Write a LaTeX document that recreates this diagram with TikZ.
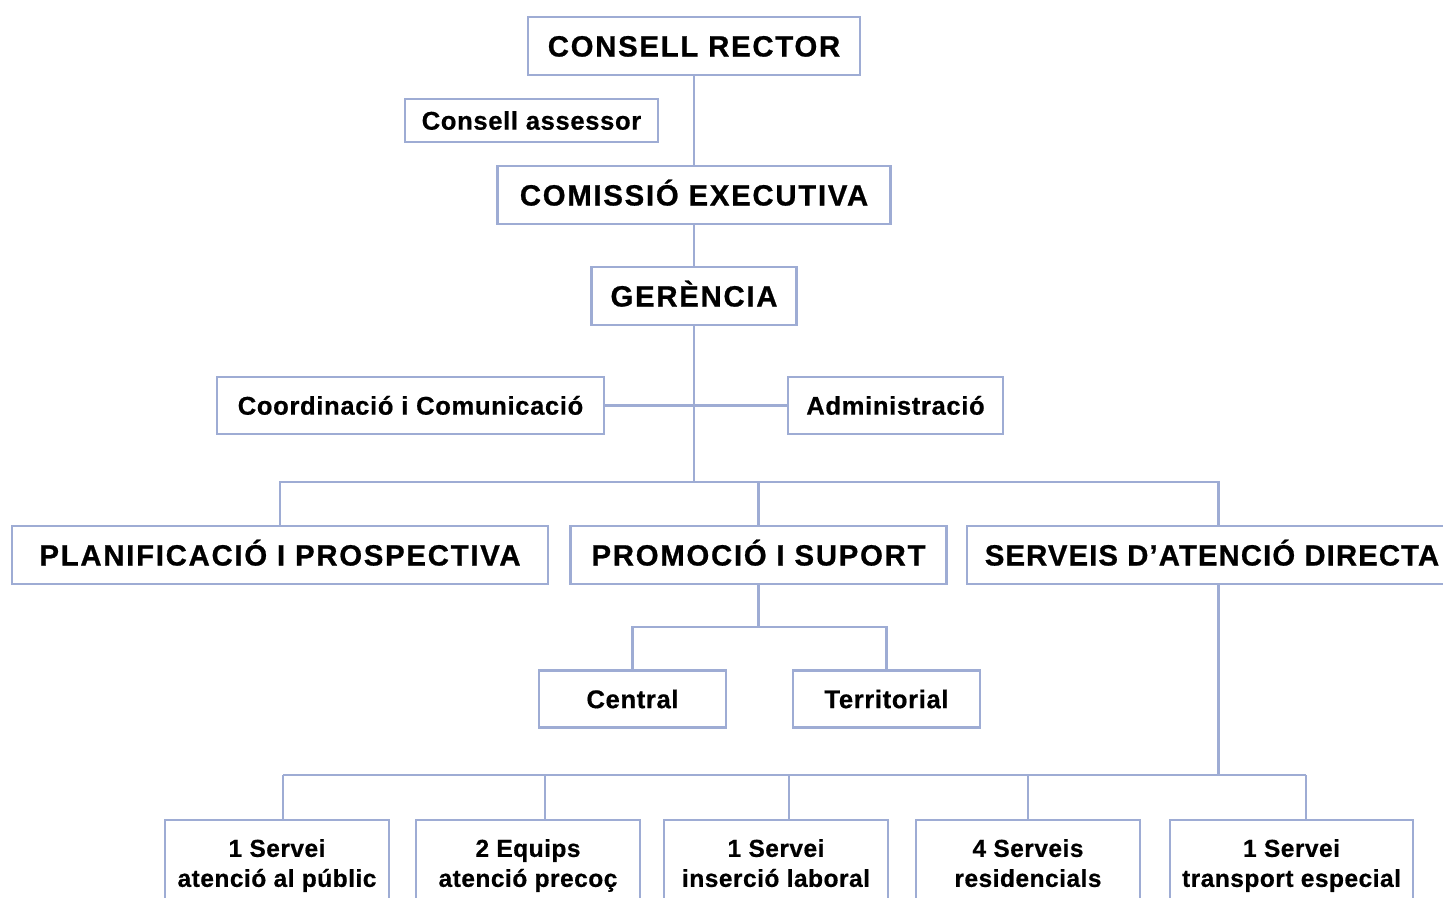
\documentclass[tikz,border=0pt]{standalone}
\usepackage{fontspec}
\setmainfont{Liberation Sans}
\definecolor{lineblue}{RGB}{158,172,212}
\begin{document}
\begin{tikzpicture}[x=1pt,y=-1pt,
  box/.style={draw=lineblue,line width=2.6pt,inner sep=0pt,fill=white},
  bigbox/.style={box,minimum height=58pt,text height=21pt,text depth=0pt,
    font=\fontsize{29.3}{32}\selectfont\bfseries\addfontfeatures{LetterSpace=6,FakeBold=0.8}},
  smallbox/.style={box,minimum height=57pt,text height=18.3pt,text depth=0pt,
    font=\fontsize{25.6}{28}\selectfont\bfseries\addfontfeatures{LetterSpace=2.5,FakeBold=0.6}},
  botbox/.style={box,minimum width=224pt,minimum height=91pt,align=center,
    font=\fontsize{24.5}{30}\selectfont\bfseries\addfontfeatures{LetterSpace=2,FakeBold=0.6}},
  conn/.style={draw=lineblue,line width=2.6pt}]
\useasboundingbox (0,0) rectangle (1443,897);
\clip (0,0) rectangle (1443,897);
\fill[white] (0,0) rectangle (1443,897);
% nodes
\node[bigbox,minimum width=332pt] (cr) at (694,46) {CONSELL RECTOR};
\node[smallbox,minimum width=253pt,minimum height=43pt] (ca) at (531.5,120.5) {Consell assessor};
\node[bigbox,minimum width=393pt] (ce) at (694,195) {COMISSIÓ EXECUTIVA};
\node[bigbox,minimum width=205pt] (ge) at (694,296) {GERÈNCIA};
\node[smallbox,minimum width=387pt] (cc) at (410.5,405.5) {Coordinació i Comunicació};
\node[smallbox,minimum width=215pt] (ad) at (895.5,405.5) {Administració};
\node[bigbox,minimum width=536pt] (pl) at (280,555) {PLANIFICACIÓ I PROSPECTIVA};
\node[bigbox,minimum width=376pt] (pr) at (758.5,555) {PROMOCIÓ I SUPORT};
\node[bigbox,minimum width=503pt,
  font=\fontsize{29.3}{32}\selectfont\bfseries\addfontfeatures{LetterSpace=3.8,FakeBold=0.8}]
  (sd) at (1218.5,555) {\hspace*{-13pt}SERVEIS D’ATENCIÓ DIRECTA};
\node[smallbox,minimum width=187pt] (c1) at (632.5,699) {Central};
\node[smallbox,minimum width=187pt] (c2) at (886.5,699) {Territorial};
\node[botbox] (b1) at (277,865.5) {1 Servei\\atenció al públic};
\node[botbox] (b2) at (528,865.5) {2 Equips\\atenció precoç};
\node[botbox] (b3) at (776,865.5) {1 Servei\\inserció laboral\vphantom{p}};
\node[botbox] (b4) at (1028,865.5) {4 Serveis\\residencials\vphantom{p}};
\node[botbox,minimum width=243pt] (b5) at (1291.5,865.5) {1 Servei\\transport especial};
% junction coordinates
\coordinate (j1) at (694,482);
\coordinate (j2) at (758.5,627);
\coordinate (j3) at (1218.5,775);
\coordinate (t1) at (283,775);
\coordinate (t2) at (545,775);
\coordinate (t3) at (789,775);
\coordinate (t4) at (1028,775);
\coordinate (t5) at (1306,775);
% connectors
\draw[conn] (cr.south) -- (ce.north);
\draw[conn] (ce.south) -- (ge.north);
\draw[conn] (ge.south) -- (j1);
\draw[conn] (cc.east) -- (ad.west);
\draw[conn] (pl.north) |- (j1) -| (sd.north);
\draw[conn] (pr.north) -- (pr.north |- j1);
\draw[conn] (pr.south) -- (j2);
\draw[conn] (c1.north) |- (j2) -| (c2.north);
\draw[conn] (sd.south) -- (j3);
\draw[conn] (t1) -- (t5);
\draw[conn] (t1) -- (t1 |- b1.north);
\draw[conn] (t2) -- (t2 |- b2.north);
\draw[conn] (t3) -- (t3 |- b3.north);
\draw[conn] (t4) -- (t4 |- b4.north);
\draw[conn] (t5) -- (t5 |- b5.north);
\end{tikzpicture}
\end{document}
